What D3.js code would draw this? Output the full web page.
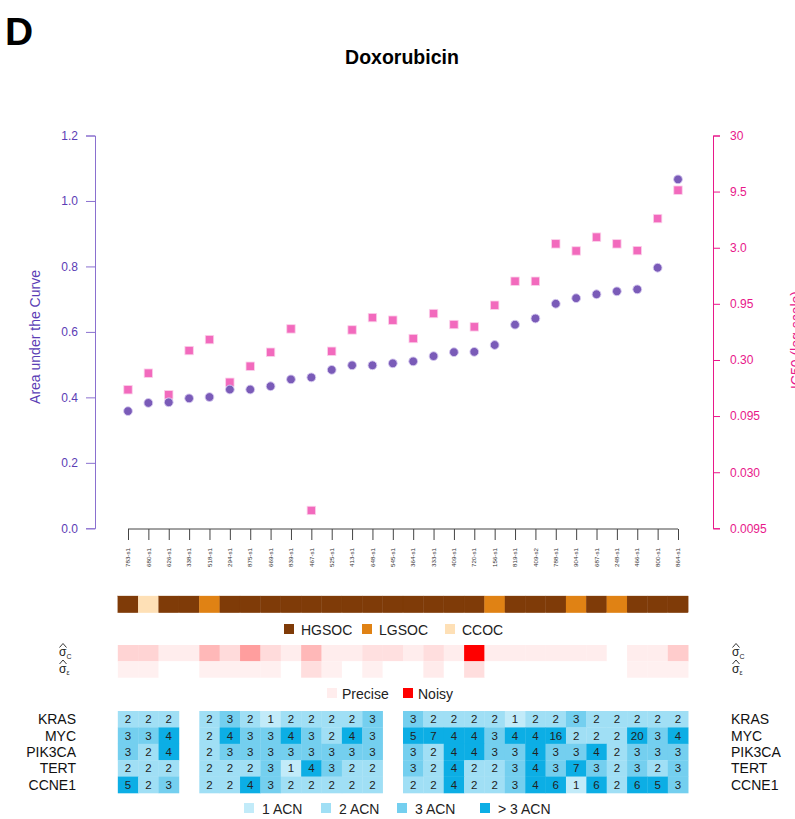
<!DOCTYPE html>
<html><head><meta charset="utf-8">
<script src="https://cdn.jsdelivr.net/npm/d3@7"></script>
<style>body{margin:0;background:#fff;} text{font-family:"Liberation Sans",Arial,Helvetica,sans-serif;}</style>
</head><body>
<svg id="chart" width="795" height="819"></svg>
<script>
const samples = ["783-s1","680-s1","626-s1","338-s1","518-s1","294-s1","875-s1","669-s1","839-s1","467-s1","525-s1","413-s1","648-s1","545-s1","364-s1","333-s1","409-s1","720-s1","156-s1","819-s1","409-s2","788-s1","904-s1","687-s1","248-s1","466-s1","800-s1","864-s1"];
const auc = [0.358,0.383,0.385,0.397,0.401,0.424,0.424,0.434,0.455,0.461,0.484,0.498,0.498,0.504,0.510,0.526,0.538,0.539,0.560,0.622,0.641,0.686,0.703,0.715,0.724,0.730,0.796,1.066];
const ic50 = [0.163,0.229,0.147,0.364,0.456,0.190,0.264,0.352,0.568,0.0137,0.359,0.556,0.716,0.679,0.466,0.778,0.621,0.592,0.923,1.51,1.51,3.25,2.81,3.73,3.25,2.83,5.46,9.77];
const subtype = ["HGSOC","CCOC","HGSOC","HGSOC","LGSOC","HGSOC","HGSOC","HGSOC","HGSOC","HGSOC","HGSOC","HGSOC","HGSOC","HGSOC","HGSOC","HGSOC","HGSOC","HGSOC","LGSOC","HGSOC","HGSOC","HGSOC","LGSOC","HGSOC","LGSOC","HGSOC","HGSOC","HGSOC"];
const subtypeNames = ["HGSOC","LGSOC","CCOC"];
const sigmaC = [0.17,0.17,0.07,0.07,0.28,0.14,0.38,0.14,0.07,0.28,0.07,0.07,0.12,0.12,0.07,0.13,0.07,1.0,0.07,0.07,0.07,0.07,0.07,0.07,0,0.07,0.07,0.2];
const sigmaE = [0.06,0.06,0,0,0.06,0.06,0.06,0.06,0,0.13,0.06,0,0.06,0,0,0.08,0,0.13,0,0,0,0,0,0,0,0.06,0.06,0.06];
const genes = ["KRAS","MYC","PIK3CA","TERT","CCNE1"];
const cnKRAS   = [2,2,2,null,2,3,2,1,2,2,2,2,3,null,3,2,2,2,2,1,2,2,3,2,2,2,2,2];
const cnMYC    = [3,3,4,null,2,4,3,3,4,3,2,4,3,null,5,7,4,4,3,4,4,16,2,2,2,20,3,4];
const cnPIK3CA = [3,2,4,null,2,3,3,3,3,3,3,3,3,null,3,2,4,4,3,3,4,3,3,4,2,3,3,3];
const cnTERT   = [2,2,2,null,2,2,2,3,1,4,3,2,2,null,3,2,4,2,2,3,4,3,7,3,2,3,2,3];
const cnCCNE1  = [5,2,3,null,2,2,4,3,2,2,2,2,2,null,2,2,4,2,2,3,4,6,1,6,2,6,5,3];
const aucTicks = [0,0.2,0.4,0.6,0.8,1.0,1.2];
const icTicks = [30,9.5,3.0,0.95,0.30,0.095,0.030,0.0095];
const icTickLabels = ["30","9.5","3.0","0.95","0.30","0.095","0.030","0.0095"];
const acnLabels = ["1 ACN","2 ACN","3 ACN","> 3 ACN"];
const noiseLabels = ["Precise","Noisy"];

const svg = d3.select("#chart");
const purple = "#5b3db5", purpleAxis = "#8a70cf", pink = "#e8188a";
const x = d3.scalePoint().domain(samples).range([128, 678]);
const step = x.step();
const yA = d3.scaleLinear().domain([0, 1.2]).range([528.3, 135.5]);
const yI = d3.scaleLog().domain([0.0095, 30]).range([528.3, 135.5]);

// Titles
svg.append("text").attr("x", 5).attr("y", 45).attr("font-size", 39).attr("font-weight", "bold").text("D");
svg.append("text").attr("x", 402).attr("y", 64).attr("text-anchor", "middle").attr("font-size", 19.5).attr("font-weight", "bold").text("Doxorubicin");

// Left axis
const gL = svg.append("g").attr("transform", "translate(95,0)")
  .call(d3.axisLeft(yA).tickValues(aucTicks).tickFormat(d3.format(".1f")).tickSize(9).tickPadding(8));
gL.select(".domain").attr("stroke", purpleAxis);
gL.selectAll(".tick line").attr("stroke", purpleAxis);
gL.selectAll(".tick text").attr("fill", purple).attr("font-size", 12).attr("font-family", "Liberation Sans, Arial, sans-serif");
svg.append("text").attr("transform", "translate(40,337) rotate(-90)").attr("text-anchor", "middle")
  .attr("font-size", 14).attr("fill", purple).text("Area under the Curve");

// Right axis
const gR = svg.append("g").attr("transform", "translate(713,0)")
  .call(d3.axisRight(yI).tickValues(icTicks).tickFormat((d, i) => icTickLabels[i]).tickSize(7).tickPadding(10));
gR.select(".domain").attr("stroke", pink);
gR.selectAll(".tick line").attr("stroke", pink);
gR.selectAll(".tick text").attr("fill", pink).attr("font-size", 12).attr("font-family", "Liberation Sans, Arial, sans-serif");
svg.append("text").attr("transform", "translate(801,340) rotate(-90)").attr("text-anchor", "middle")
  .attr("font-size", 14).attr("fill", pink).text("IC50 (log scale)");

// X axis
const gX = svg.append("g").attr("transform", "translate(0,529)")
  .call(d3.axisBottom(x).tickSize(11).tickFormat(""));
gX.select(".domain").attr("stroke", "#444").attr("d", "M128,0H678");
gX.selectAll(".tick line").attr("stroke", "#444");
svg.append("g").selectAll("text").data(samples).join("text")
  .attr("transform", d => `translate(${x(d) + 2.2},548) rotate(-90)`)
  .attr("text-anchor", "end").attr("font-size", 6.2).attr("fill", "#333").text(d => d);

// Points
svg.append("g").selectAll("rect").data(samples).join("rect")
  .attr("x", (d, i) => x(d) - 4.2).attr("y", (d, i) => yI(ic50[i]) - 4.2)
  .attr("width", 8.4).attr("height", 8.4).attr("fill", "#f26abd").attr("stroke", "#fbd0ea").attr("stroke-width", 0.8);
svg.append("g").selectAll("circle").data(samples).join("circle")
  .attr("cx", d => x(d)).attr("cy", (d, i) => yA(auc[i])).attr("r", 4.4)
  .attr("fill", "#7a5bb8").attr("stroke", "#d8ccf0").attr("stroke-width", 0.9);

// Subtype bar
const typeColor = d3.scaleOrdinal().domain(subtypeNames).range(["#7f3b08", "#e08214", "#fee0b6"]);
svg.append("g").selectAll("rect").data(samples).join("rect")
  .attr("x", d => x(d) - step / 2).attr("y", 596).attr("width", step).attr("height", 16.5)
  .attr("fill", (d, i) => typeColor(subtype[i])).attr("stroke", (d, i) => typeColor(subtype[i]))
  .attr("stroke-width", 0.3);
svg.append("g").selectAll("rect").data(samples).join("rect")
  .attr("x", d => x(d) - step / 2 + 0.4).attr("y", 596).attr("width", step - 0.8).attr("height", 16.5)
  .attr("fill", (d, i) => typeColor(subtype[i]));
const typeLegX = [284, 362, 445];
const tl = svg.append("g");
subtypeNames.forEach((n, i) => {
  tl.append("rect").attr("x", typeLegX[i]).attr("y", 624).attr("width", 10).attr("height", 10).attr("fill", typeColor(n));
  tl.append("text").attr("x", typeLegX[i] + 17).attr("y", 634.5).attr("font-size", 14).attr("fill", "#222").text(n);
});

// Noise rows
const noiseColor = d3.interpolateRgb("#ffffff", "#ff0000");
[[sigmaC, 645], [sigmaE, 661.3]].forEach(([arr, y0]) => {
  svg.append("g").selectAll("rect").data(samples).join("rect")
    .attr("x", d => x(d) - step / 2).attr("y", y0).attr("width", step + 0.3).attr("height", 16.4)
    .attr("fill", (d, i) => noiseColor(arr[i]));
});
function sigmaLabel(xc, y, sub) {
  const g = svg.append("g");
  g.append("path").attr("d", `M${xc - 3.5},${y - 8.5}L${xc},${y - 12.5}L${xc + 3.5},${y - 8.5}`)
    .attr("fill", "none").attr("stroke", "#222").attr("stroke-width", 0.9);
  const t = g.append("text").attr("x", xc - 4).attr("y", y).attr("font-size", 12).attr("fill", "#222");
  t.append("tspan").text("σ");
  t.append("tspan").attr("font-size", 7).attr("dy", 2.5).text(sub);
}
sigmaLabel(63, 656, "C"); sigmaLabel(63, 672.5, "ε");
sigmaLabel(736, 656, "C"); sigmaLabel(736, 672.5, "ε");
const nl = svg.append("g");
const noiseLegX = [327, 403];
noiseLabels.forEach((n, i) => {
  nl.append("rect").attr("x", noiseLegX[i]).attr("y", 688).attr("width", 10).attr("height", 10).attr("fill", i === 0 ? noiseColor(0.07) : noiseColor(1));
  nl.append("text").attr("x", noiseLegX[i] + 15).attr("y", 698.5).attr("font-size", 14).attr("fill", "#222").text(n);
});

// CNV heatmap
const cnRows = [cnKRAS, cnMYC, cnPIK3CA, cnTERT, cnCCNE1];
const acnColors = ["#c2ebf9", "#a0dff5", "#74cfef", "#0caee5"];
const acnColor = v => v <= 1 ? acnColors[0] : v === 2 ? acnColors[1] : v === 3 ? acnColors[2] : acnColors[3];
const yG = d3.scaleBand().domain(genes).range([711, 793]);
genes.forEach((g, gi) => {
  const row = svg.append("g");
  const cells = samples.map((s, i) => ({ s, v: cnRows[gi][i] })).filter(c => c.v !== null);
  row.selectAll("rect").data(cells).join("rect")
    .attr("x", c => x(c.s) - step / 2).attr("y", yG(g)).attr("width", step + 0.3).attr("height", yG.bandwidth() + 0.3)
    .attr("fill", c => acnColor(c.v));
  row.selectAll("text").data(cells).join("text")
    .attr("x", c => x(c.s)).attr("y", yG(g) + yG.bandwidth() / 2 + 4)
    .attr("text-anchor", "middle").attr("font-size", 11.5).attr("fill", "#222").text(c => c.v);
  svg.append("text").attr("x", 76).attr("y", yG(g) + yG.bandwidth() / 2 + 5).attr("text-anchor", "end")
    .attr("font-size", 14).attr("fill", "#111").text(g);
  svg.append("text").attr("x", 731).attr("y", yG(g) + yG.bandwidth() / 2 + 5)
    .attr("font-size", 14).attr("fill", "#111").text(g);
});
const acnLegX = [244, 321, 397, 480];
const al = svg.append("g");
acnLabels.forEach((n, i) => {
  al.append("rect").attr("x", acnLegX[i]).attr("y", 803).attr("width", 10).attr("height", 10).attr("fill", acnColors[i]);
  al.append("text").attr("x", acnLegX[i] + 18).attr("y", 813.5).attr("font-size", 14).attr("fill", "#222").text(n);
});
</script>
</body></html>
